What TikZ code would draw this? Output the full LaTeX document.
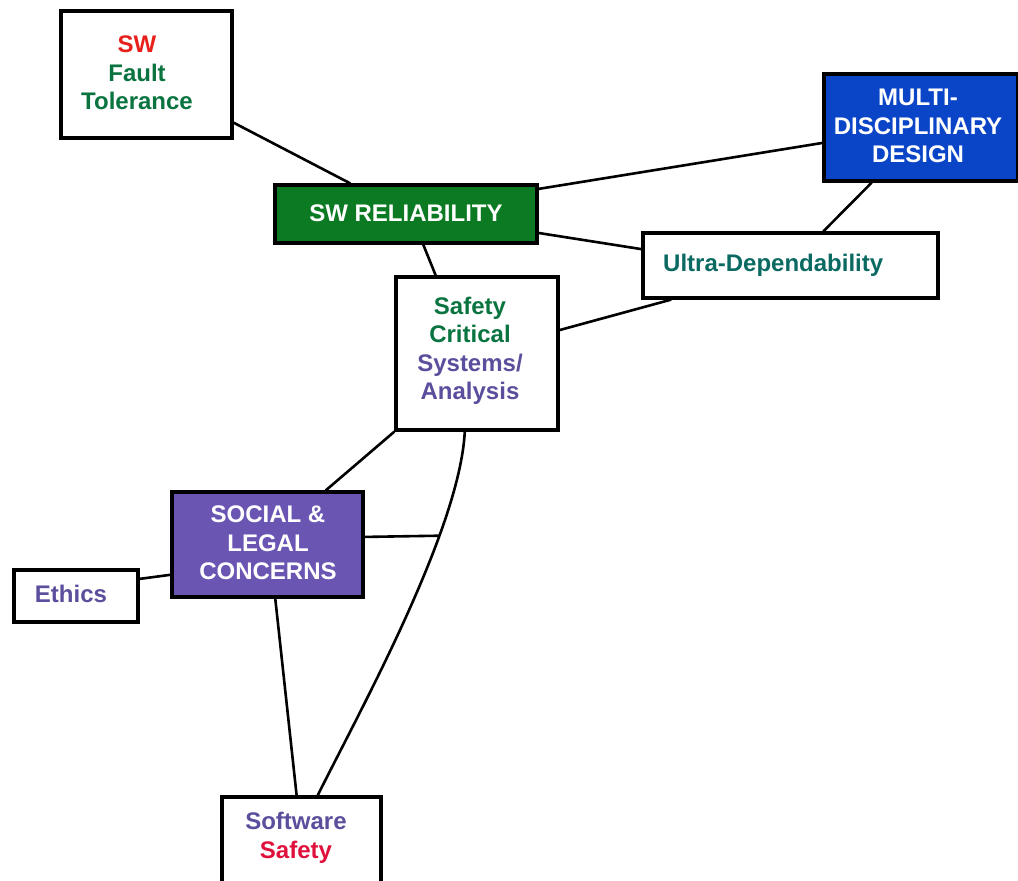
\documentclass[tikz,border=0pt]{standalone}
\usepackage{fontspec}
\setmainfont{Liberation Sans}
\usetikzlibrary{calc}
\definecolor{relgreen}{HTML}{0B7A22}
\definecolor{multiblue}{HTML}{0A45C8}
\definecolor{socpurple}{HTML}{6A55B3}
\definecolor{txtgreen}{HTML}{0A7440}
\definecolor{txtpurple}{HTML}{5B4E9C}
\definecolor{txtred}{HTML}{E8201C}
\definecolor{txtred2}{HTML}{E0103C}
\definecolor{txtteal}{HTML}{0A6A62}
\begin{document}
\begin{tikzpicture}[x=1pt,y=-1pt,
  box/.style={draw=black, line width=3.2pt, fill=white, inner sep=0pt},
  conn/.style={draw=black, line width=2.6pt},
  txt/.style={font=\bfseries\fontsize{24}{28.5}\selectfont, align=center, inner sep=0pt}]
\useasboundingbox (0,0) rectangle (1018,881);
% boxes
\node[box, minimum width=171pt, minimum height=127pt] (ft) at (146.5,74.5) {};
\node[box, fill=relgreen, minimum width=262pt, minimum height=58pt] (rel) at (406,214) {};
\node[box, fill=multiblue, minimum width=194pt, minimum height=107pt] (multi) at (921,127.5) {};
\node[box, minimum width=295pt, minimum height=65pt] (ultra) at (790.5,265.5) {};
\node[box, minimum width=162pt, minimum height=153pt] (safety) at (477,353.5) {};
\node[box, fill=socpurple, minimum width=191pt, minimum height=105pt] (social) at (267.5,544.5) {};
\node[box, minimum width=124pt, minimum height=52pt] (ethics) at (76,596) {};
\node[box, minimum width=159pt, minimum height=88pt] (sws) at (301.5,841) {};
% connectors
\draw[conn] ($(ft.north east)!0.87!(ft.south east)$) -- ($(rel.north west)!0.29!(rel.north east)$);
\draw[conn] ($(rel.north east)!0.09!(rel.south east)$) -- ($(multi.north west)!0.64!(multi.south west)$);
\draw[conn] ($(rel.north east)!0.81!(rel.south east)$) -- ($(ultra.north west)!0.26!(ultra.south west)$);
\draw[conn] ($(multi.south west)!0.25!(multi.south east)$) -- ($(ultra.north west)!0.61!(ultra.north east)$);
\draw[conn] ($(rel.south west)!0.565!(rel.south east)$) -- ($(safety.north west)!0.25!(safety.north east)$);
\draw[conn] ($(safety.north east)!0.35!(safety.south east)$) -- ($(ultra.south west)!0.1!(ultra.south east)$);
\draw[conn] (safety.south west) -- ($(social.north west)!0.8!(social.north east)$);
\draw[conn] ($(safety.south west)!0.426!(safety.south east)$) .. controls +(-5,100) and +(38,-77) .. coordinate[pos=0.29] (junc) ($(sws.north west)!0.6!(sws.north east)$);
\draw[conn] ($(social.north east)!0.43!(social.south east)$) -- (junc);
\draw[conn] ($(social.north west)!0.78!(social.south west)$) -- ($(ethics.north east)!0.19!(ethics.south east)$);
\draw[conn] ($(social.south west)!0.54!(social.south east)$) -- ($(sws.north west)!0.47!(sws.north east)$);
% texts
\node[txt, text=txtgreen] (ft-t) at (137,73) {{\color{txtred}SW}\\Fault\\Tolerance};
\node[txt, text=white] (rel-t) at (406,213) {SW RELIABILITY};
\node[txt, text=white] (multi-t) at (918,126) {MULTI-\\DISCIPLINARY\\DESIGN};
\node[txt, text=txtteal, anchor=west] (ultra-t) at (663,265) {Ultra-Dependability};
\node[txt, text=txtpurple] (safety-t) at (470,351) {{\color{txtgreen}Safety}\\{\color{txtgreen}Critical}\\Systems/\\Analysis};
\node[txt, text=white] (social-t) at (268,543) {SOCIAL \&\\LEGAL\\CONCERNS};
\node[txt, text=txtpurple] (ethics-t) at (71,594) {Ethics};
\node[txt, text=txtpurple] (sws-t) at (296,838) {Software\\{\color{txtred2}Safety}};
\end{tikzpicture}
\end{document}
